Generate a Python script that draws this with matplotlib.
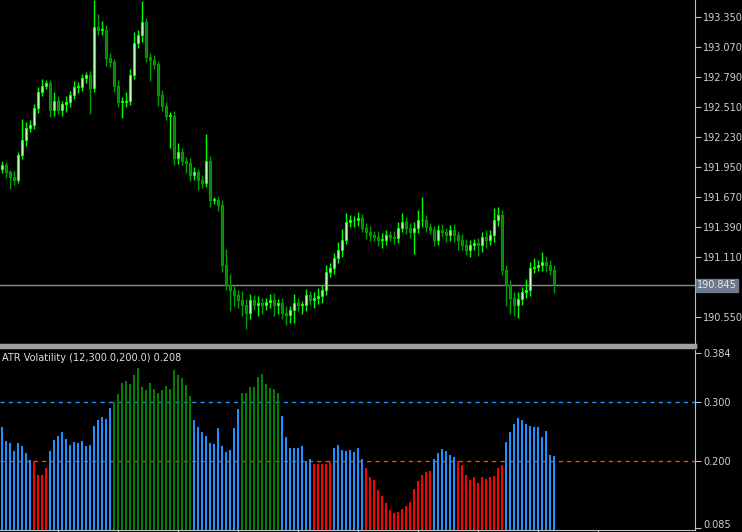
import matplotlib
matplotlib.use("Agg")
import matplotlib.pyplot as plt
import numpy as np
from matplotlib.patches import Rectangle
from matplotlib.transforms import ScaledTranslation

closes = [191.97,191.90,191.86,191.83,192.06,192.20,192.31,192.34,192.50,192.65,192.71,192.73,192.48,192.57,192.48,192.54,192.56,192.62,192.70,192.70,
          192.78,192.81,192.69,193.26,193.23,193.23,192.97,192.93,192.71,192.56,192.56,192.57,192.81,193.11,193.18,193.30,192.98,192.95,192.91,192.62,
          192.52,192.43,192.43,192.03,192.09,192.01,191.99,191.87,191.90,191.83,191.80,192.01,191.64,191.64,191.59,191.03,190.85,190.80,190.75,190.71,
          190.66,190.59,190.71,190.66,190.68,190.66,190.69,190.71,190.66,190.68,190.59,190.57,190.61,190.68,190.66,190.66,190.75,190.71,190.73,190.74,
          190.80,190.97,191.01,191.10,191.17,191.27,191.44,191.45,191.45,191.47,191.38,191.34,191.31,191.30,191.27,191.27,191.31,191.30,191.29,191.38,
          191.44,191.38,191.34,191.38,191.45,191.45,191.39,191.36,191.27,191.36,191.34,191.31,191.36,191.31,191.27,191.22,191.17,191.22,191.24,191.22,
          191.30,191.27,191.31,191.45,191.50,190.99,190.85,190.73,190.66,190.72,190.78,190.80,191.01,191.02,191.03,191.06,191.03,190.99,190.85]
first_open = 191.93
wick_up = [0.04,0.03,0.02,0.05,0.03,0.20,0.06,0.05,0.04,0.05,0.06,0.03,0.03,0.08,0.04,0.03,0.05,0.04,0.05,0.04,
           0.04,0.03,0.04,0.25,0.12,0.08,0.05,0.04,0.03,0.05,0.04,0.08,0.05,0.10,0.05,0.20,0.04,0.03,0.05,0.03,
           0.05,0.04,0.03,0.04,0.08,0.04,0.03,0.04,0.05,0.03,0.04,0.25,0.04,0.03,0.04,0.05,0.15,0.10,0.04,0.05,
           0.08,0.06,0.05,0.04,0.06,0.05,0.04,0.05,0.06,0.04,0.05,0.06,0.04,0.08,0.05,0.04,0.06,0.04,0.05,0.08,
           0.05,0.06,0.04,0.05,0.08,0.10,0.08,0.05,0.04,0.06,0.04,0.05,0.06,0.04,0.05,0.06,0.05,0.04,0.05,0.06,
           0.08,0.04,0.05,0.06,0.10,0.22,0.05,0.04,0.04,0.05,0.06,0.04,0.05,0.06,0.04,0.05,0.06,0.05,0.04,0.05,
           0.04,0.06,0.05,0.12,0.08,0.05,0.04,0.04,0.05,0.06,0.05,0.10,0.05,0.08,0.05,0.10,0.06,0.05,0.04]
wick_dn = [0.04,0.05,0.12,0.05,0.03,0.04,0.05,0.03,0.04,0.05,0.04,0.03,0.06,0.05,0.04,0.05,0.08,0.05,0.04,0.06,
           0.04,0.05,0.25,0.04,0.05,0.05,0.08,0.05,0.06,0.05,0.15,0.05,0.04,0.04,0.05,0.06,0.05,0.20,0.05,0.10,
           0.05,0.04,0.30,0.06,0.05,0.04,0.10,0.05,0.04,0.10,0.05,0.04,0.06,0.04,0.05,0.06,0.05,0.20,0.10,0.08,
           0.10,0.15,0.06,0.05,0.10,0.08,0.05,0.06,0.10,0.08,0.06,0.10,0.08,0.12,0.06,0.08,0.06,0.05,0.08,0.06,
           0.06,0.05,0.05,0.06,0.05,0.06,0.04,0.05,0.06,0.05,0.04,0.06,0.05,0.04,0.06,0.08,0.05,0.04,0.06,0.05,
           0.04,0.06,0.05,0.20,0.05,0.06,0.05,0.04,0.06,0.05,0.04,0.06,0.05,0.06,0.10,0.05,0.04,0.06,0.05,0.10,
           0.06,0.08,0.05,0.06,0.05,0.05,0.20,0.15,0.10,0.12,0.06,0.05,0.06,0.05,0.04,0.05,0.06,0.05,0.08]

atr = [0.257,0.234,0.230,0.216,0.230,0.2245,0.214,0.202,0.198,0.176,0.175,0.188,0.216,0.236,0.242,0.249,0.237,0.226,0.232,0.230,
       0.234,0.2245,0.226,0.259,0.270,0.275,0.272,0.290,0.301,0.314,0.332,0.336,0.331,0.347,0.358,0.325,0.320,0.332,0.322,0.315,
       0.321,0.328,0.322,0.355,0.347,0.341,0.329,0.311,0.269,0.258,0.249,0.243,0.230,0.229,0.255,0.2245,0.215,0.218,0.255,0.289,
       0.315,0.316,0.326,0.326,0.343,0.348,0.331,0.324,0.323,0.315,0.277,0.240,0.222,0.221,0.222,0.2245,0.200,0.203,0.195,0.194,
       0.195,0.195,0.199,0.222,0.226,0.218,0.216,0.219,0.215,0.222,0.203,0.187,0.172,0.167,0.1495,0.139,0.128,0.115,0.111,0.112,
       0.118,0.123,0.130,0.151,0.166,0.176,0.180,0.183,0.203,0.213,0.2195,0.217,0.2105,0.2055,0.1995,0.192,0.175,0.167,0.172,0.162,
       0.173,0.169,0.172,0.1745,0.187,0.193,0.232,0.2495,0.263,0.273,0.270,0.263,0.2595,0.258,0.257,0.240,0.251,0.2105,0.208]
high_level = 0.300
low_level = 0.200
price_now = 190.845
price_ticks = [193.350,193.070,192.790,192.510,192.230,191.950,191.670,191.390,191.110,190.550]
atr_ticks = [0.384,0.300,0.200,0.085]

W, H = 742, 532
fig = plt.figure(figsize=(W/100, H/100), dpi=100, facecolor='black')
axw = 695/W
ax = fig.add_axes([0, 1-345/H, axw, 345/H], facecolor='black')
ax2 = fig.add_axes([0, 1-530/H, axw, 180/H], facecolor='black')

n = len(closes)
opens = [first_open] + closes[:-1]
for i in range(n):
    o, c = opens[i], closes[i]
    hi = max(o, c) + wick_up[i]
    lo = min(o, c) - wick_dn[i]
    bull = c >= o
    col = '#00ff00' if bull else '#00a000'
    ax.plot([i, i], [lo, hi], color=col, lw=1, solid_capstyle='butt', zorder=2)
    h = max(abs(c - o), 0.008)
    ax.add_patch(Rectangle((i-0.36, min(o, c)), 0.72, h,
                           facecolor='#d8ffd0' if bull else '#008000',
                           edgecolor=col, lw=0.8, zorder=3))
ax.set_xlim(-0.5, 695/4 - 0.5)
ax.set_ylim(190.287, 193.509)
ax.axhline(price_now, color='#8a8a8a', lw=1, zorder=1)

x = np.arange(len(atr))
cols = ['#008000' if v > high_level else ('#ff0000' if v < low_level else '#1e90ff') for v in atr]
ax2.bar(x, atr, width=0.6, color=cols, zorder=2)
ax2.axhline(high_level, color='#1e90ff', lw=1, ls=(0, (3, 3)), zorder=1)
ax2.axhline(low_level, color='#ff4500', lw=1, ls=(0, (3, 3)), zorder=1)
ax2.set_xlim(-0.5, 695/4 - 0.5 + (len(closes)-len(atr)))
ax2.set_ylim(0.0817, 0.389)
ax2.text(0.003, 0.985, "ATR Volatility (12,300.0,200.0) 0.208", transform=ax2.transAxes,
         color='#e0e0e0', fontsize=7, va='top', ha='left')

for a in (ax, ax2):
    for s in a.spines.values():
        s.set_color('#c0c0c0')
    a.spines['left'].set_visible(False)
    a.spines['top'].set_visible(False)
    a.yaxis.tick_right()
    a.tick_params(axis='y', colors='#c0c0c0', labelcolor='#d0d0d0', labelsize=7, length=4, pad=2)
ax.set_yticks(price_ticks)
ax.set_yticklabels([f"{t:.3f}" for t in price_ticks])
ax.set_xticks([])
ax.spines['bottom'].set_color('#a0a0a0'); ax.spines['bottom'].set_linewidth(2.5)
ax2.set_yticks(atr_ticks)
ax2.set_yticklabels([f"{t:.3f}" for t in atr_ticks])
lbls = ax2.get_yticklabels()
lbls[-1].set_transform(lbls[-1].get_transform() + ScaledTranslation(0, 4/100, fig.dpi_scale_trans))
ax2.set_xticks(np.arange(14, 150, 15))
ax2.tick_params(axis='x', colors='#c0c0c0', length=4, labelbottom=False, direction='out')
ax.text(1.003, (price_now-190.287)/(193.509-190.287), f"{price_now:.3f}", transform=ax.transAxes,
        color='#e8e8e8', fontsize=7, va='center', ha='left',
        bbox=dict(boxstyle='square,pad=0.15', facecolor='#6a7a8a', edgecolor='#6a7a8a'))
fig.add_artist(plt.Line2D([0, axw], [1-347/H, 1-347/H], color='#a0a0a0', lw=2.5))
fig.savefig("out.png", dpi=100, facecolor='black')
